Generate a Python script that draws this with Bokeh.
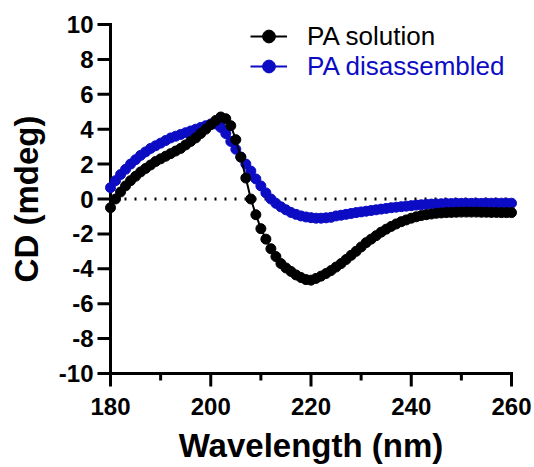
import math
from bokeh.plotting import figure
from bokeh.models import Legend, LegendItem, Range1d
from bokeh.core.properties import value
from bokeh.embed import file_html
from bokeh.resources import INLINE

wavelength = list(range(180, 261))

pa_solution = [
    -0.5, 0.0, 0.4, 0.75, 1.05, 1.3, 1.55, 1.75, 1.95, 2.15,
    2.3, 2.45, 2.6, 2.75, 2.9, 3.1, 3.3, 3.5, 3.75, 4.0,
    4.25, 4.5, 4.7, 4.6, 4.2, 3.4, 2.4, 1.2, 0.0, -0.9,
    -1.7, -2.3, -2.85, -3.3, -3.7, -3.95, -4.15, -4.35, -4.5, -4.62,
    -4.65, -4.55, -4.42, -4.27, -4.1, -3.9, -3.7, -3.47, -3.23, -3.0,
    -2.75, -2.5, -2.3, -2.1, -1.9, -1.73, -1.57, -1.43, -1.3, -1.2,
    -1.1, -1.02, -0.95, -0.9, -0.86, -0.82, -0.8, -0.78, -0.77, -0.76,
    -0.75, -0.75, -0.75, -0.75, -0.76, -0.76, -0.77, -0.77, -0.78, -0.78,
    -0.78,
]

pa_disassembled = [
    0.65, 1.05, 1.4, 1.7, 2.0, 2.25, 2.5, 2.7, 2.9, 3.05,
    3.2, 3.35, 3.5, 3.6, 3.7, 3.8, 3.9, 4.0, 4.1, 4.2,
    4.3, 4.3, 4.1, 3.75, 3.3, 2.85, 2.4, 2.0, 1.6, 1.15,
    0.75, 0.35, 0.0, -0.25, -0.45, -0.62, -0.77, -0.88, -0.97, -1.03,
    -1.07, -1.1, -1.1, -1.08, -1.05, -0.97, -0.93, -0.88, -0.83, -0.78,
    -0.74, -0.7, -0.66, -0.62, -0.58, -0.54, -0.5, -0.47, -0.44, -0.41,
    -0.38, -0.35, -0.33, -0.31, -0.29, -0.28, -0.27, -0.26, -0.26, -0.25,
    -0.25, -0.25, -0.25, -0.25, -0.25, -0.24, -0.24, -0.24, -0.24, -0.24,
    -0.24,
]

x_ticks = [180, 200, 220, 240, 260]
x_minor_ticks = [190, 210, 230, 250]
x_tick_labels = ["180", "200", "220", "240", "260"]
y_ticks = [-10, -8, -6, -4, -2, 0, 2, 4, 6, 8, 10]
y_tick_labels = ["-10", "-8", "-6", "-4", "-2", "0", "2", "4", "6", "8", "10"]
x_lo, x_hi = 180, 260
y_lo, y_hi = -10, 10

BLUE = "#0c0cc4"
FONT = value("Liberation Sans")

# page geometry (pixels) of the plotting box
W, H = 534, 467
BOX_L, BOX_R, BOX_T, BOX_B = 110, 511, 24, 373
sx = (BOX_R - BOX_L) / (x_hi - x_lo)
sy = (BOX_B - BOX_T) / (y_hi - y_lo)
x_start = x_lo - BOX_L / sx
x_end = x_hi + (W - BOX_R) / sx
y_end = y_hi + BOX_T / sy
y_start = y_lo - (H - BOX_B) / sy

def dx(px):
    return px / sx

def dy(px):
    return px / sy

def px_x(px):
    return x_start + px / sx

def px_y(py):
    return y_end - py / sy

p = figure(width=W, height=H, output_backend="svg", toolbar_location=None,
           x_range=Range1d(x_start, x_end), y_range=Range1d(y_start, y_end),
           x_axis_type=None, y_axis_type=None,
           min_border=0, min_border_left=0, min_border_right=0,
           min_border_top=0, min_border_bottom=0)
p.outline_line_color = None
p.background_fill_color = "white"
p.border_fill_color = "white"
p.grid.visible = False

HW = 1.5          # half of the axis / tick thickness, px
TICK = 13         # major tick length, px
MINOR = 7         # minor tick length, px

# zero reference line
p.line([x_lo + dx(4), x_hi], [0, 0], line_color="black", line_width=3,
       line_dash="2 8")

# y axis with its ticks, as one filled comb-shaped outline
yx = [x_lo + dx(HW), x_lo + dx(HW)]
yy = [y_hi + dy(HW), y_lo - dy(HW)]
for t in sorted(y_ticks):
    yx += [x_lo - dx(HW), x_lo - dx(TICK), x_lo - dx(TICK), x_lo - dx(HW)]
    yy += [t - dy(HW), t - dy(HW), t + dy(HW), t + dy(HW)]
p.patch(yx, yy, fill_color="black", line_color=None)

# x axis with its ticks, as one filled comb-shaped outline
xx = [x_lo - dx(HW), x_hi + dx(HW)]
xy = [y_lo + dy(HW), y_lo + dy(HW)]
for t in sorted(x_ticks + x_minor_ticks, reverse=True):
    depth = TICK if t in x_ticks else MINOR
    xx += [t + dx(HW), t + dx(HW), t - dx(HW), t - dx(HW)]
    xy += [y_lo - dy(HW), y_lo - dy(depth), y_lo - dy(depth), y_lo - dy(HW)]
p.patch(xx, xy, fill_color="black", line_color=None)

# tick labels
p.text(x=[x_lo - dx(17)] * len(y_ticks), y=y_ticks, text=y_tick_labels,
       text_font=FONT, text_font_style="bold", text_font_size="24px",
       text_align="right", text_baseline="middle", text_color="black")
p.text(x=x_ticks, y=[px_y(406)] * len(x_ticks), text=x_tick_labels,
       text_font=FONT, text_font_style="bold", text_font_size="24px",
       text_align="center", text_baseline="middle", text_color="black")

# axis titles
p.text(x=[(x_lo + x_hi) / 2], y=[px_y(445)], text=["Wavelength (nm)"],
       text_font=FONT, text_font_style="bold", text_font_size="33px",
       text_align="center", text_baseline="middle", text_color="black")
p.text(x=[px_x(26)], y=[(y_lo + y_hi) / 2], text=["CD (mdeg)"],
       angle=math.pi / 2,
       text_font=FONT, text_font_style="bold", text_font_size="33px",
       text_align="center", text_baseline="middle", text_color="black")

# data
bl = p.line(wavelength, pa_disassembled, line_color=BLUE, line_width=2)
bs = p.scatter(wavelength, pa_disassembled, size=10, fill_color=BLUE,
               line_color=BLUE)
kl = p.line(wavelength, pa_solution, line_color="black", line_width=2)
ks = p.scatter(wavelength, pa_solution, size=10, fill_color="black",
               line_color="black")

def make_legend(label, renderers, color, y):
    lg = Legend(items=[LegendItem(label=label, renderers=renderers)],
                location=(250, y), padding=0, margin=0, spacing=0,
                glyph_width=37, glyph_height=32, label_height=32,
                label_standoff=20, border_line_color=None,
                background_fill_alpha=0,
                label_text_font="Liberation Sans", label_text_font_size="26px",
                label_text_color=color)
    p.add_layout(lg, "center")

make_legend("PA solution", [kl, ks], "black", H - 52)
make_legend("PA disassembled", [bl, bs], BLUE, H - 82)

open("out.html", "w").write(file_html(p, INLINE))
